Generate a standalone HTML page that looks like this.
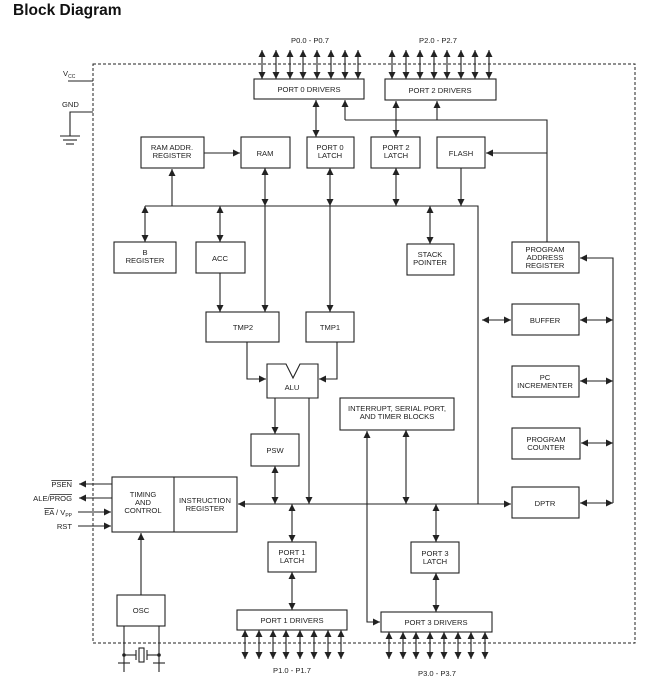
<!DOCTYPE html>
<html><head><meta charset="utf-8"><style>
html,body{margin:0;padding:0;background:#fff;}
svg{display:block;}
text{font-family:"Liberation Sans",Arial,sans-serif;font-size:7.6px;fill:#222;text-anchor:middle;}
.b{fill:#fff;stroke:#222;stroke-width:1.1;}
.l{stroke:#222;stroke-width:1.1;fill:none;}
</style></head><body>
<svg width="656" height="683" viewBox="0 0 656 683" xmlns="http://www.w3.org/2000/svg">
<defs>
<marker id="a" viewBox="0 0 10 10" refX="10" refY="5" markerWidth="7" markerHeight="7" markerUnits="userSpaceOnUse" orient="auto-start-reverse"><path d="M0,0 L10,5 L0,10 z" fill="#222"/></marker>
</defs>
<text x="13" y="15" style="font-size:15.5px;font-weight:bold;text-anchor:start;fill:#111">Block Diagram</text>
<rect x="93" y="64" width="542" height="579" fill="none" stroke="#222" stroke-width="1" stroke-dasharray="3,2"/>

<!-- VCC / GND -->
<text x="63" y="76" style="text-anchor:start">V<tspan style="font-size:5px" dy="2">CC</tspan></text>
<line class="l" x1="68" y1="81" x2="93" y2="81"/>
<text x="62" y="107" style="text-anchor:start">GND</text>
<polyline class="l" points="93,112 70,112 70,136"/>
<line class="l" x1="60" y1="136" x2="80" y2="136"/>
<line class="l" x1="63" y1="140" x2="77" y2="140"/>
<line class="l" x1="66" y1="144" x2="74" y2="144"/>

<!-- Port 0 / 2 drivers -->
<text x="310" y="43">P0.0  -  P0.7</text>
<text x="438" y="43">P2.0  -  P2.7</text>
<g class="l" marker-start="url(#a)" marker-end="url(#a)">
<line x1="262" y1="50" x2="262" y2="79"/><line x1="276" y1="50" x2="276" y2="79"/><line x1="290" y1="50" x2="290" y2="79"/><line x1="303" y1="50" x2="303" y2="79"/><line x1="317" y1="50" x2="317" y2="79"/><line x1="331" y1="50" x2="331" y2="79"/><line x1="345" y1="50" x2="345" y2="79"/><line x1="358" y1="50" x2="358" y2="79"/>
<line x1="392" y1="50" x2="392" y2="79"/><line x1="406" y1="50" x2="406" y2="79"/><line x1="420" y1="50" x2="420" y2="79"/><line x1="434" y1="50" x2="434" y2="79"/><line x1="447" y1="50" x2="447" y2="79"/><line x1="461" y1="50" x2="461" y2="79"/><line x1="475" y1="50" x2="475" y2="79"/><line x1="489" y1="50" x2="489" y2="79"/>
</g>
<rect class="b" x="254" y="79" width="110" height="20"/><text x="309" y="92">PORT  0  DRIVERS</text>
<rect class="b" x="385" y="79" width="111" height="21"/><text x="440" y="93">PORT  2  DRIVERS</text>

<!-- feed lines to drivers -->
<polyline class="l" points="547,242 547,120 345,120"/>
<line class="l" x1="345" y1="120" x2="345" y2="100" marker-end="url(#a)"/>
<line class="l" x1="437" y1="120" x2="437" y2="101" marker-end="url(#a)"/>
<line class="l" x1="547" y1="153" x2="486" y2="153" marker-end="url(#a)"/>

<!-- row 2 boxes -->
<rect class="b" x="141" y="137" width="63" height="31"/><text x="172" y="150">RAM  ADDR.</text><text x="172" y="158">REGISTER</text>
<rect class="b" x="241" y="137" width="49" height="31"/><text x="265" y="156">RAM</text>
<rect class="b" x="307" y="137" width="47" height="31"/><text x="330" y="150">PORT  0</text><text x="330" y="158">LATCH</text>
<rect class="b" x="371" y="137" width="49" height="31"/><text x="396" y="150">PORT  2</text><text x="396" y="158">LATCH</text>
<rect class="b" x="437" y="137" width="48" height="31"/><text x="461" y="156">FLASH</text>
<line class="l" x1="204" y1="153" x2="240" y2="153" marker-end="url(#a)"/>
<g class="l" marker-start="url(#a)" marker-end="url(#a)">
<line x1="316" y1="100" x2="316" y2="137"/>
<line x1="396" y1="101" x2="396" y2="137"/>
<line x1="396" y1="168" x2="396" y2="206"/>
<line x1="265" y1="168" x2="265" y2="206"/>
<line x1="330" y1="168" x2="330" y2="206"/>
<line x1="145" y1="206" x2="145" y2="242"/>
<line x1="220" y1="206" x2="220" y2="242"/>
<line x1="430" y1="206" x2="430" y2="244"/>
</g>
<!-- internal bus -->
<polyline class="l" points="145,206 478,206 478,504"/>
<line class="l" x1="172" y1="206" x2="172" y2="169" marker-end="url(#a)"/>
<line class="l" x1="461" y1="168" x2="461" y2="206" marker-end="url(#a)"/>

<rect class="b" x="114" y="242" width="62" height="31"/><text x="145" y="255">B</text><text x="145" y="263">REGISTER</text>
<rect class="b" x="196" y="242" width="49" height="31"/><text x="220" y="261">ACC</text>
<rect class="b" x="407" y="244" width="47" height="31"/><text x="430" y="257">STACK</text><text x="430" y="265">POINTER</text>

<!-- TMP -->
<line class="l" x1="220" y1="273" x2="220" y2="312" marker-end="url(#a)"/>
<line class="l" x1="265" y1="206" x2="265" y2="312" marker-end="url(#a)"/>
<line class="l" x1="330" y1="206" x2="330" y2="312" marker-end="url(#a)"/>
<rect class="b" x="206" y="312" width="73" height="30"/><text x="243" y="330">TMP2</text>
<rect class="b" x="306" y="312" width="48" height="30"/><text x="330" y="330">TMP1</text>

<!-- ALU -->
<path class="b" d="M267,364 L286,364 L293,378 L300,364 L318,364 L318,398 L267,398 z"/>
<text x="292" y="390">ALU</text>
<polyline class="l" points="247,342 247,379 266,379" marker-end="url(#a)"/>
<polyline class="l" points="337,342 337,379 319,379" marker-end="url(#a)"/>
<line class="l" x1="275" y1="398" x2="275" y2="434" marker-end="url(#a)"/>
<rect class="b" x="251" y="434" width="48" height="32"/><text x="275" y="453">PSW</text>
<line class="l" x1="275" y1="466" x2="275" y2="504" marker-start="url(#a)" marker-end="url(#a)"/>
<line class="l" x1="309" y1="398" x2="309" y2="504" marker-end="url(#a)"/>

<!-- main bus -->
<line class="l" x1="511" y1="504" x2="238" y2="504" marker-start="url(#a)" marker-end="url(#a)"/>

<!-- right column -->
<rect class="b" x="512" y="242" width="67" height="31"/><text x="545" y="252">PROGRAM</text><text x="545" y="260">ADDRESS</text><text x="545" y="268">REGISTER</text>
<rect class="b" x="512" y="304" width="67" height="31"/><text x="545" y="323">BUFFER</text>
<rect class="b" x="512" y="366" width="67" height="31"/><text x="545" y="380">PC</text><text x="545" y="388">INCREMENTER</text>
<rect class="b" x="512" y="428" width="68" height="31"/><text x="546" y="442">PROGRAM</text><text x="546" y="450">COUNTER</text>
<rect class="b" x="512" y="487" width="67" height="31"/><text x="545" y="506">DPTR</text>
<polyline class="l" points="613,503 613,258 580,258" marker-end="url(#a)"/>
<g class="l" marker-start="url(#a)" marker-end="url(#a)">
<line x1="482" y1="320" x2="511" y2="320"/>
<line x1="580" y1="320" x2="613" y2="320"/>
<line x1="580" y1="381" x2="613" y2="381"/>
<line x1="581" y1="443" x2="613" y2="443"/>
<line x1="580" y1="503" x2="613" y2="503"/>
</g>

<!-- interrupt -->
<rect class="b" x="340" y="398" width="114" height="32"/><text x="397" y="411">INTERRUPT,  SERIAL  PORT,</text><text x="397" y="419">AND  TIMER  BLOCKS</text>
<line class="l" x1="406" y1="430" x2="406" y2="504" marker-start="url(#a)" marker-end="url(#a)"/>
<polyline class="l" points="367,431 367,622 380,622" marker-start="url(#a)" marker-end="url(#a)"/>

<!-- timing & IR -->
<rect class="b" x="112" y="477" width="125" height="55"/>
<line class="l" x1="174" y1="477" x2="174" y2="532"/>
<text x="143" y="497">TIMING</text><text x="143" y="505">AND</text><text x="143" y="513">CONTROL</text>
<text x="205" y="503">INSTRUCTION</text><text x="205" y="511">REGISTER</text>
<line class="l" x1="112" y1="484" x2="79" y2="484" marker-end="url(#a)"/>
<line class="l" x1="112" y1="498" x2="79" y2="498" marker-end="url(#a)"/>
<line class="l" x1="78" y1="512" x2="111" y2="512" marker-end="url(#a)"/>
<line class="l" x1="78" y1="526" x2="111" y2="526" marker-end="url(#a)"/>
<g style="text-anchor:end">
<text x="72" y="487" style="text-anchor:end;text-decoration:overline">PSEN</text>
<text x="72" y="501" style="text-anchor:end">ALE/<tspan style="text-decoration:overline">PROG</tspan></text>
<text x="72" y="515" style="text-anchor:end"><tspan style="text-decoration:overline">EA</tspan> / V<tspan style="font-size:5px" dy="2">PP</tspan></text>
<text x="72" y="529" style="text-anchor:end">RST</text>
</g>

<!-- OSC -->
<rect class="b" x="117" y="595" width="48" height="31"/><text x="141" y="613">OSC</text>
<line class="l" x1="141" y1="595" x2="141" y2="533" marker-end="url(#a)"/>
<line class="l" x1="124" y1="626" x2="124" y2="663"/>
<line class="l" x1="159" y1="626" x2="159" y2="663"/>
<circle cx="124" cy="655" r="1.8" fill="#222"/><circle cx="159" cy="655" r="1.8" fill="#222"/>
<line class="l" x1="124" y1="655" x2="136" y2="655"/><line class="l" x1="136" y1="650" x2="136" y2="660"/>
<rect class="b" x="139" y="648" width="5" height="14"/>
<line class="l" x1="147" y1="650" x2="147" y2="660"/><line class="l" x1="147" y1="655" x2="159" y2="655"/>
<line class="l" x1="118" y1="663" x2="130" y2="663"/><line class="l" x1="124" y1="663" x2="124" y2="672"/>
<line class="l" x1="153" y1="663" x2="165" y2="663"/><line class="l" x1="159" y1="663" x2="159" y2="672"/>

<!-- Port 1 -->
<line class="l" x1="292" y1="504" x2="292" y2="542" marker-start="url(#a)" marker-end="url(#a)"/>
<rect class="b" x="268" y="542" width="48" height="30"/><text x="292" y="555">PORT  1</text><text x="292" y="563">LATCH</text>
<line class="l" x1="292" y1="572" x2="292" y2="610" marker-start="url(#a)" marker-end="url(#a)"/>
<rect class="b" x="237" y="610" width="110" height="20"/><text x="292" y="623">PORT  1  DRIVERS</text>
<g class="l" marker-start="url(#a)" marker-end="url(#a)">
<line x1="245" y1="630" x2="245" y2="659"/><line x1="259" y1="630" x2="259" y2="659"/><line x1="273" y1="630" x2="273" y2="659"/><line x1="286" y1="630" x2="286" y2="659"/><line x1="300" y1="630" x2="300" y2="659"/><line x1="314" y1="630" x2="314" y2="659"/><line x1="328" y1="630" x2="328" y2="659"/><line x1="341" y1="630" x2="341" y2="659"/>
</g>
<text x="292" y="673">P1.0  -  P1.7</text>

<!-- Port 3 -->
<line class="l" x1="436" y1="504" x2="436" y2="542" marker-start="url(#a)" marker-end="url(#a)"/>
<rect class="b" x="411" y="542" width="48" height="31"/><text x="435" y="556">PORT  3</text><text x="435" y="564">LATCH</text>
<line class="l" x1="436" y1="573" x2="436" y2="612" marker-start="url(#a)" marker-end="url(#a)"/>
<rect class="b" x="381" y="612" width="111" height="20"/><text x="436" y="625">PORT  3  DRIVERS</text>
<g class="l" marker-start="url(#a)" marker-end="url(#a)">
<line x1="389" y1="632" x2="389" y2="659"/><line x1="403" y1="632" x2="403" y2="659"/><line x1="416" y1="632" x2="416" y2="659"/><line x1="430" y1="632" x2="430" y2="659"/><line x1="444" y1="632" x2="444" y2="659"/><line x1="458" y1="632" x2="458" y2="659"/><line x1="471" y1="632" x2="471" y2="659"/><line x1="485" y1="632" x2="485" y2="659"/>
</g>
<text x="437" y="676">P3.0  -  P3.7</text>
</svg>
</body></html>
